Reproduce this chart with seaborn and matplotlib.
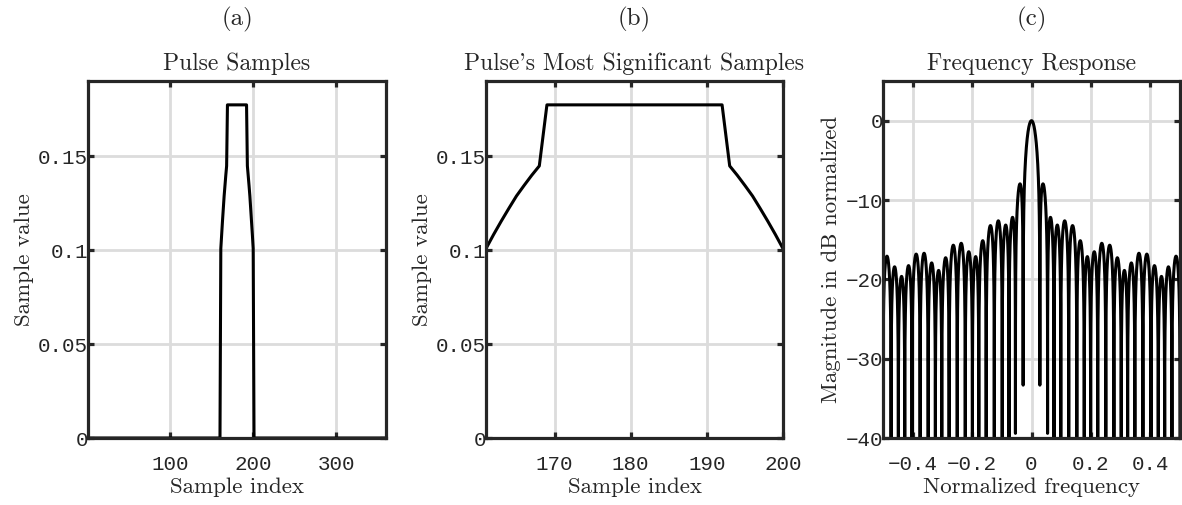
import numpy as np
import pandas as pd
import matplotlib
matplotlib.use("Agg")
import matplotlib.pyplot as plt
import seaborn as sns

# Pulse definition: 360 samples, non-zero between samples 161 and 200
n_total = 360
pulse_start = 161
ramp_up = [0.1008, 0.1083, 0.1154, 0.1222, 0.1288, 0.1344, 0.1398, 0.1448]
flat_top = [0.1773] * 24
ramp_down = ramp_up[::-1]
significant = ramp_up + flat_top + ramp_down

sample_index = np.arange(1, n_total + 1)
pulse = np.zeros(n_total)
pulse[pulse_start - 1:pulse_start - 1 + len(significant)] = significant

sig_index = np.arange(pulse_start, pulse_start + len(significant))

# Frequency response of the pulse (zero-padded FFT, peak-normalised, 10*log10 of magnitude)
n_fft = 2 ** 15
spectrum = np.fft.fftshift(np.fft.fft(pulse, n_fft))
freq = np.fft.fftshift(np.fft.fftfreq(n_fft))
mag = np.abs(spectrum)
mag_db = 10 * np.log10(np.maximum(mag / mag.max(), 1e-30))

panel_letters = ["(a)", "(b)", "(c)"]
panel_titles = ["Pulse Samples", "Pulse's Most Significant Samples", "Frequency Response"]

sns.set_style("ticks")
plt.rcParams["mathtext.fontset"] = "cm"
plt.rcParams["axes.unicode_minus"] = True

SERIF = ["cmr10", "DejaVu Serif"]
MONO = "Liberation Mono"
SPINE = "#262626"
GRID = "#dcdcdc"

W, H = 1182, 505
fig = plt.figure(figsize=(W / 100, H / 100), dpi=100)
fig.patch.set_facecolor("white")


def make_axes(left, right, top=81, bottom=438):
    return fig.add_axes([left / W, (H - bottom) / H, (right - left) / W, (bottom - top) / H])


def style(ax, letter, title, xlabel, ylabel):
    for s in ax.spines.values():
        s.set_visible(True)
        s.set_linewidth(2.3)
        s.set_color(SPINE)
        s.set_zorder(5)
    ax.grid(True, color=GRID, linewidth=2.0)
    ax.set_axisbelow(True)
    ax.tick_params(direction="in", length=4, width=2.3, color=SPINE,
                   top=True, right=True, labelsize=15)
    ax.tick_params(axis="x", pad=12)
    ax.tick_params(axis="y", pad=0)
    for lab in ax.get_xticklabels() + ax.get_yticklabels():
        lab.set_fontfamily(MONO)
        lab.set_color("#262626")
    ax.set_xlabel(xlabel, fontfamily=SERIF, fontsize=16.5, labelpad=3, color="#262626")
    ax.set_ylabel(ylabel, fontfamily=SERIF, fontsize=16.5, labelpad=3, color="#262626")
    ax.set_title(title, fontfamily=SERIF, fontsize=17, pad=8, color="#262626")
    ax.text(0.5, 1.0 + 62 / 357, letter, transform=ax.transAxes, ha="center", va="center",
            fontfamily=SERIF, fontsize=18, color="#262626")


line_kw = dict(color="black", linewidth=2.2, estimator=None, sort=False)

# (a) full pulse
ax1 = make_axes(88, 386)
sns.lineplot(data=pd.DataFrame({"n": sample_index, "v": pulse}), x="n", y="v", ax=ax1, **line_kw)
ax1.set_xlim(1, 360)
ax1.set_ylim(0, 0.19)
ax1.set_xticks([100, 200, 300])
ax1.set_xticklabels(["100", "200", "300"])
ax1.set_yticks([0, 0.05, 0.1, 0.15])
ax1.set_yticklabels(["0", "0.05", "0.1", "0.15"])
style(ax1, panel_letters[0], panel_titles[0], "Sample index", "Sample value")

# (b) most significant samples
ax2 = make_axes(486, 783)
sns.lineplot(data=pd.DataFrame({"n": sig_index, "v": significant}), x="n", y="v", ax=ax2, **line_kw)
ax2.set_xlim(161, 200)
ax2.set_ylim(0, 0.19)
ax2.set_xticks([170, 180, 190, 200])
ax2.set_xticklabels(["170", "180", "190", "200"])
ax2.set_yticks([0, 0.05, 0.1, 0.15])
ax2.set_yticklabels(["0", "0.05", "0.1", "0.15"])
style(ax2, panel_letters[1], panel_titles[1], "Sample index", "Sample value")

# (c) frequency response
ax3 = make_axes(883, 1180)
sns.lineplot(data=pd.DataFrame({"f": freq, "m": mag_db}), x="f", y="m", ax=ax3, **line_kw)
ax3.set_xlim(-0.5, 0.5)
ax3.set_ylim(-40, 5)
ax3.set_xticks([-0.4, -0.2, 0, 0.2, 0.4])
ax3.set_xticklabels(["\u22120.4", "\u22120.2", "0", "0.2", "0.4"])
ax3.set_yticks([-40, -30, -20, -10, 0])
ax3.set_yticklabels(["\u221240", "\u221230", "\u221220", "\u221210", "0"])
style(ax3, panel_letters[2], panel_titles[2], "Normalized frequency", "Magnitude in dB normalized")

fig.savefig("out.png", dpi=100, facecolor="white")
